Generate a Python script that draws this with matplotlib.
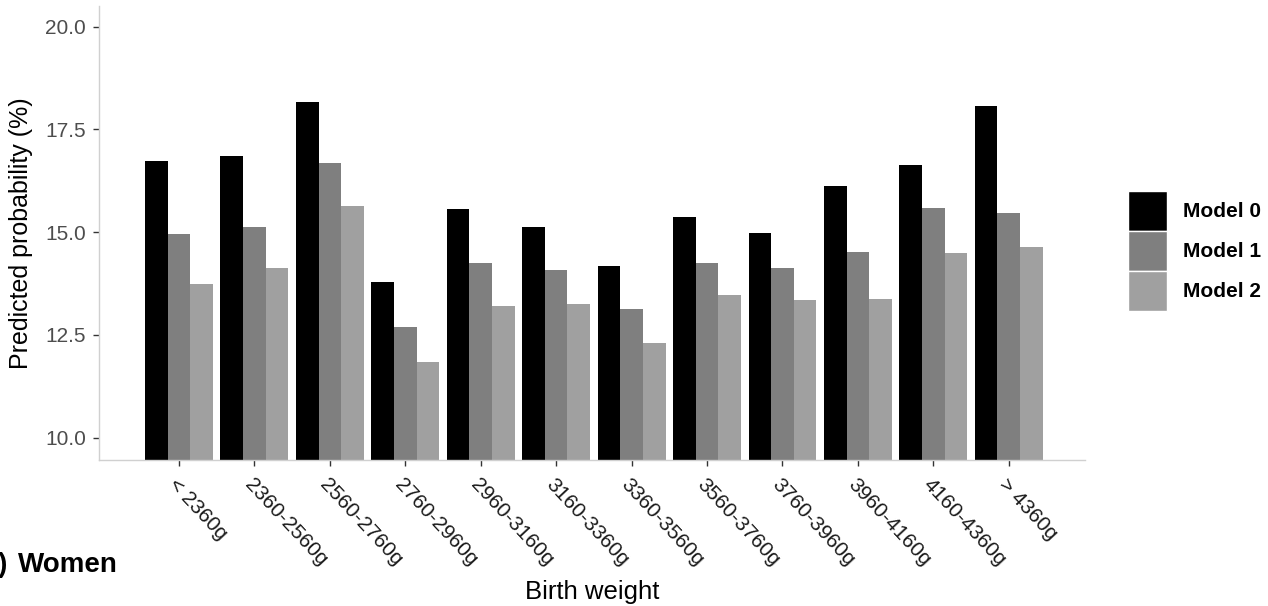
import numpy as np
import matplotlib
matplotlib.use("Agg")
import matplotlib.pyplot as plt
from matplotlib.patches import Patch

plt.rcParams['font.family'] = ['Liberation Sans', 'DejaVu Sans']

# birth weight groups
categories = ["< 2360g", "2360-2560g", "2560-2760g", "2760-2960g", "2960-3160g",
              "3160-3360g", "3360-3560g", "3560-3760g", "3760-3960g", "3960-4160g",
              "4160-4360g", "> 4360g"]

# predicted probability (%) per model
model0 = [16.72, 16.85, 18.16, 13.78, 15.57, 15.13, 14.18, 15.36, 14.99, 16.12, 16.63, 18.07]
model1 = [14.95, 15.12, 16.68, 12.69, 14.26, 14.09, 13.13, 14.26, 14.13, 14.51, 15.59, 15.46]
model2 = [13.73, 14.13, 15.63, 11.83, 13.21, 13.26, 12.30, 13.48, 13.34, 13.38, 14.50, 14.64]

series = ["Model 0", "Model 1", "Model 2"]
colors = ["#000000", "#7f7f7f", "#a0a0a0"]
yticks = [10.0, 12.5, 15.0, 17.5, 20.0]

W, H = 1268, 606
fig = plt.figure(figsize=(W / 100, H / 100), dpi=100)
ax = fig.add_axes([99 / W, 1 - 460 / H, 986 / W, 454 / H])

x = np.arange(len(categories))
bw = 0.3
for k, vals in enumerate([model0, model1, model2]):
    # bars start from below the visible range, like the original
    ax.bar(x + (k - 1) * bw, np.array(vals) - 9.0, bw, bottom=9.0,
           color=colors[k], edgecolor='none', label=series[k])

ax.set_xlim(-1.06, 12.01)
ax.set_ylim(9.457, 20.5)
ax.set_yticks(yticks)
ax.set_yticklabels(["%.1f" % v for v in yticks], fontsize=15, color='#4d4d4d')
ax.set_xticks(x)
ax.set_xticklabels(categories, fontsize=15, color='#1a1a1a',
                   rotation=-47, ha='left', va='top', rotation_mode='anchor')

for side in ['top', 'right']:
    ax.spines[side].set_visible(False)
for side in ['left', 'bottom']:
    ax.spines[side].set_color('#d0d0d0')
    ax.spines[side].set_linewidth(1.0)
ax.tick_params(axis='both', length=4, width=1, color='#333333')
ax.tick_params(axis='y', pad=5.5)
ax.tick_params(axis='x', pad=7)

ax.set_ylabel('Predicted probability (%)', fontsize=18, color='black')
ax.yaxis.set_label_coords(-0.067, 0.5)
ax.set_xlabel('Birth weight', fontsize=18.5, color='black', va='top')
ax.xaxis.set_label_coords(0.5, -0.264)

handles = [Patch(facecolor=c, edgecolor='white', linewidth=1) for c in colors]
fig.legend(handles, series, loc='upper left',
           bbox_to_anchor=(1128 / W, 1 - 191 / H), frameon=False,
           prop={'weight': 'bold', 'size': 15},
           handlelength=1.85, handleheight=2.58, labelspacing=0,
           handletextpad=0.8, borderpad=0, borderaxespad=0)

fig.text(8 / W, 1 - 572 / H, "(b)", fontsize=20, fontweight='bold',
         ha='right', va='baseline')
fig.text(18 / W, 1 - 572 / H, "Women", fontsize=20, fontweight='bold',
         ha='left', va='baseline')

fig.savefig('out.png', dpi=100)
